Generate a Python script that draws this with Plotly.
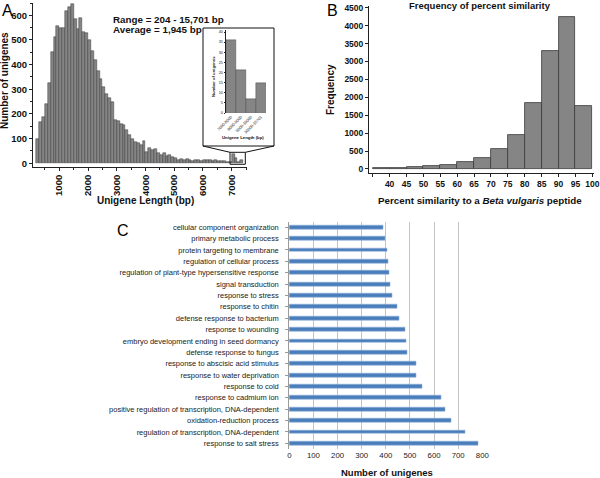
import plotly.graph_objects as go

W, H = 600, 478
def px(X):
    return X / W
def py(Y):
    return 1 - Y / H

# ---------------- Panel A data ----------------
length_bin_start = list(range(200, 7400, 100))
unigene_counts = [97, 166, 189, 240, 324, 451, 511, 557, 549, 549,
                  616, 632, 645, 585, 545, 588, 532, 527, 500, 455,
                  419, 374, 340, 311, 283, 265, 250, 176, 170, 160,
                  155, 135, 115, 97, 88, 81, 74, 90, 47, 64,
                  54, 57, 43, 34, 40, 30, 34, 24, 23, 14,
                  16, 12, 16, 15, 11, 13, 14, 10, 15, 14,
                  15, 10, 12, 9, 10, 10, 5, 6,
                  36, 21, 7, 15]
a_xticks = [1000, 2000, 3000, 4000, 5000, 6000, 7000]
a_yticks = [0, 100, 200, 300, 400, 500, 600]

inset_labels = ["7000-8000", "8000-9000", "9000-10000", "10000-15701"]
inset_counts = [36, 21, 7, 15]
inset_yticks = [0, 5, 10, 15, 20, 25, 30, 35, 40]

# ---------------- Panel B data ----------------
similarity_bin_start = [35, 40, 45, 50, 55, 60, 65, 70, 75, 80, 85, 90, 95]
similarity_freq = [20, 28, 46, 84, 112, 186, 316, 558, 948, 1850, 3300, 4248, 1757]
b_xticks = [35, 40, 45, 50, 55, 60, 65, 70, 75, 80, 85, 90, 95, 100]
b_xticktext = [""] + [str(v) for v in b_xticks[1:]]
b_yticks = [0, 500, 1000, 1500, 2000, 2500, 3000, 3500, 4000, 4500]

# ---------------- Panel C data ----------------
go_terms = ["response to salt stress",
            "regulation of transcription, DNA-dependent",
            "oxidation-reduction process",
            "positive regulation of transcription, DNA-dependent",
            "response to cadmium ion",
            "response to cold",
            "response to water deprivation",
            "response to abscisic acid stimulus",
            "defense response to fungus",
            "embryo development ending in seed dormancy",
            "response to wounding",
            "defense response to bacterium",
            "response to chitin",
            "response to stress",
            "signal transduction",
            "regulation of plant-type hypersensitive response",
            "regulation of cellular process",
            "protein targeting to membrane",
            "primary metabolic process",
            "cellular component organization"]
go_counts = [783, 731, 670, 645, 631, 550, 528, 526, 488, 484,
             479, 455, 446, 427, 419, 416, 410, 406, 398, 390]
c_xticks = [0, 100, 200, 300, 400, 500, 600, 700, 800]

BOLD = "Liberation Sans"
CAL = "Liberation Sans"

fig = go.Figure()

fig.add_trace(go.Bar(x=[s + 50 for s in length_bin_start], y=unigene_counts, width=100,
                     marker=dict(color="#858585", line=dict(color="#3a3a3a", width=0.5)),
                     xaxis="x", yaxis="y", showlegend=False))
fig.add_trace(go.Bar(x=inset_labels, y=inset_counts,
                     marker=dict(color="#858585", line=dict(color="#3a3a3a", width=0.4)),
                     xaxis="x2", yaxis="y2", showlegend=False))
fig.add_trace(go.Bar(x=[s + 2.5 for s in similarity_bin_start], y=similarity_freq, width=5,
                     marker=dict(color="#858585", line=dict(color="#3a3a3a", width=0.8)),
                     xaxis="x3", yaxis="y3", showlegend=False))
fig.add_trace(go.Bar(y=go_terms, x=go_counts, orientation="h", width=0.34,
                     marker=dict(color="#4a7ebb", line=dict(color="#8fb0dc", width=0.6)),
                     xaxis="x4", yaxis="y4", showlegend=False))

tickfontA = dict(family=BOLD, size=9.5, color="#111")

fig.update_layout(
    template="none",
    width=W, height=H, margin=dict(l=0, r=0, t=0, b=0, autoexpand=False),
    paper_bgcolor="white", plot_bgcolor="rgba(0,0,0,0)",
    bargap=0,
    xaxis=dict(domain=[px(33), px(247)], range=[85, 7533], tickvals=a_xticks,
               ticktext=[f"<b>{v}</b>" for v in a_xticks], tickangle=-90, automargin=False,
               showline=True, linecolor="#222", linewidth=1, ticks="outside", ticklen=3,
               tickcolor="#222", showgrid=False, zeroline=False, tickfont=tickfontA,
               minor=dict(ticks="outside", ticklen=2, dtick=500, tick0=0, tickcolor="#222")),
    yaxis=dict(domain=[py(167), py(3)], range=[-15, 650], tickvals=a_yticks,
               ticktext=[f"<b>{v}</b>" for v in a_yticks], automargin=False,
               showline=True, linecolor="#222", linewidth=1, ticks="outside", ticklen=3,
               tickcolor="#222", showgrid=False, zeroline=False, tickfont=tickfontA,
               minor=dict(ticks="outside", ticklen=2, dtick=50, tick0=0, tickcolor="#222")),
    xaxis2=dict(domain=[px(226), px(266)], type="category", tickangle=-45, automargin=False,
                tickfont=dict(family=BOLD, size=4, color="#222"), showline=False,
                ticks="", showgrid=False, zeroline=False, anchor="y2"),
    yaxis2=dict(domain=[py(113), py(30)], range=[0, 41], tickvals=inset_yticks, automargin=False,
                tickfont=dict(family=BOLD, size=3.8, color="#222"), showline=True,
                linecolor="#222", linewidth=0.6, ticks="outside", ticklen=1.5,
                tickcolor="#222", showgrid=False, zeroline=False, anchor="x2"),
    xaxis3=dict(domain=[px(369), px(594)], range=[33.9, 100.5], tickvals=b_xticks,
                ticktext=[f"<b>{t}</b>" if t else "" for t in b_xticktext], automargin=False,
                showline=True, linecolor="#222", linewidth=1, ticks="outside", ticklen=3,
                tickcolor="#222", showgrid=False, zeroline=False,
                tickfont=dict(family=BOLD, size=8.5, color="#111"), anchor="y3"),
    yaxis3=dict(domain=[py(173), py(6)], range=[-112, 4547], tickvals=b_yticks,
                ticktext=[f"<b>{v}</b>" for v in b_yticks], automargin=False,
                showline=True, linecolor="#222", linewidth=1, ticks="outside", ticklen=3,
                tickcolor="#222", showgrid=False, zeroline=False,
                tickfont=dict(family=BOLD, size=8.5, color="#111"), anchor="x3"),
    xaxis4=dict(domain=[px(289.3), px(482.3)], range=[0, 800], tickvals=c_xticks, automargin=False,
                showline=False, showgrid=True, gridcolor="#c4c4c4", gridwidth=1,
                zeroline=False, ticks="", tickfont=dict(family=CAL, size=7.8, color="#222"),
                anchor="y4"),
    yaxis4=dict(domain=[py(449), py(221.5)], type="category", showline=True, automargin=False,
                linecolor="#9a9a9a", linewidth=1, ticks="outside", ticklen=3,
                tickcolor="#9a9a9a", showgrid=False, zeroline=False,
                tickfont=dict(family=CAL, size=7.5, color="#222"), ticklabelstandoff=5,
                anchor="x4"),
)

ann = []
def text(X, Y, t, size, family=BOLD, angle=0, xanchor="center", color="#111"):
    ann.append(dict(x=px(X), y=py(Y), xref="paper", yref="paper", text=t, showarrow=False,
                    font=dict(family=family, size=size, color=color), textangle=angle,
                    xanchor=xanchor, yanchor="middle"))

text(0, 11, "A", 16, family="Liberation Sans", xanchor="left", color="#000")
text(332, 10, "B", 16, family="Liberation Sans", color="#000")
text(123, 231, "C", 16, family="Liberation Sans", color="#000")
text(5, 81, "<b>Number of unigenes</b>", 10, angle=-90)
text(145, 200, "<b>Unigene Length (bp)</b>", 10)
text(111, 19, "<b>Range = 204 - 15,701 bp</b>", 9.8, xanchor="left")
text(111, 29, "<b>Average = 1,945 bp</b>", 9.8, xanchor="left")
text(213, 77, "<b>Number of unigenes</b>", 4.2, angle=-90)
text(243, 137, "<b>Unigene Length (bp)</b>", 4.3)
text(480, 5, "<b>Frequency of percent similarity</b>", 9.5)
text(480, 200, "<b>Percent similarity to a <i>Beta vulgaris</i> peptide</b>", 9.8)
text(330, 90, "<b>Frequency</b>", 10, angle=-90)
text(387, 472, "<b>Number of unigenes</b>", 9.5, family=CAL, color="#111")
fig.update_layout(annotations=ann)

shapes = [
    dict(type="rect", xref="paper", yref="paper", x0=px(203), x1=px(274), y0=py(146), y1=py(28),
         line=dict(color="#111", width=1)),
    dict(type="line", xref="paper", yref="paper", x0=px(203), y0=py(146), x1=px(230), y1=py(152.3),
         line=dict(color="#111", width=1)),
    dict(type="line", xref="paper", yref="paper", x0=px(274), y0=py(146), x1=px(245.3), y1=py(152.3),
         line=dict(color="#111", width=1)),
    dict(type="rect", xref="x", yref="y", x0=6942, x1=7474, y0=-4, y1=44.6,
         line=dict(color="#111", width=1)),
]
fig.update_layout(shapes=shapes)

fig.write_html("out.html", config={"displayModeBar": False},
               post_script="document.body.style.margin='0';document.body.style.overflow='hidden';")
